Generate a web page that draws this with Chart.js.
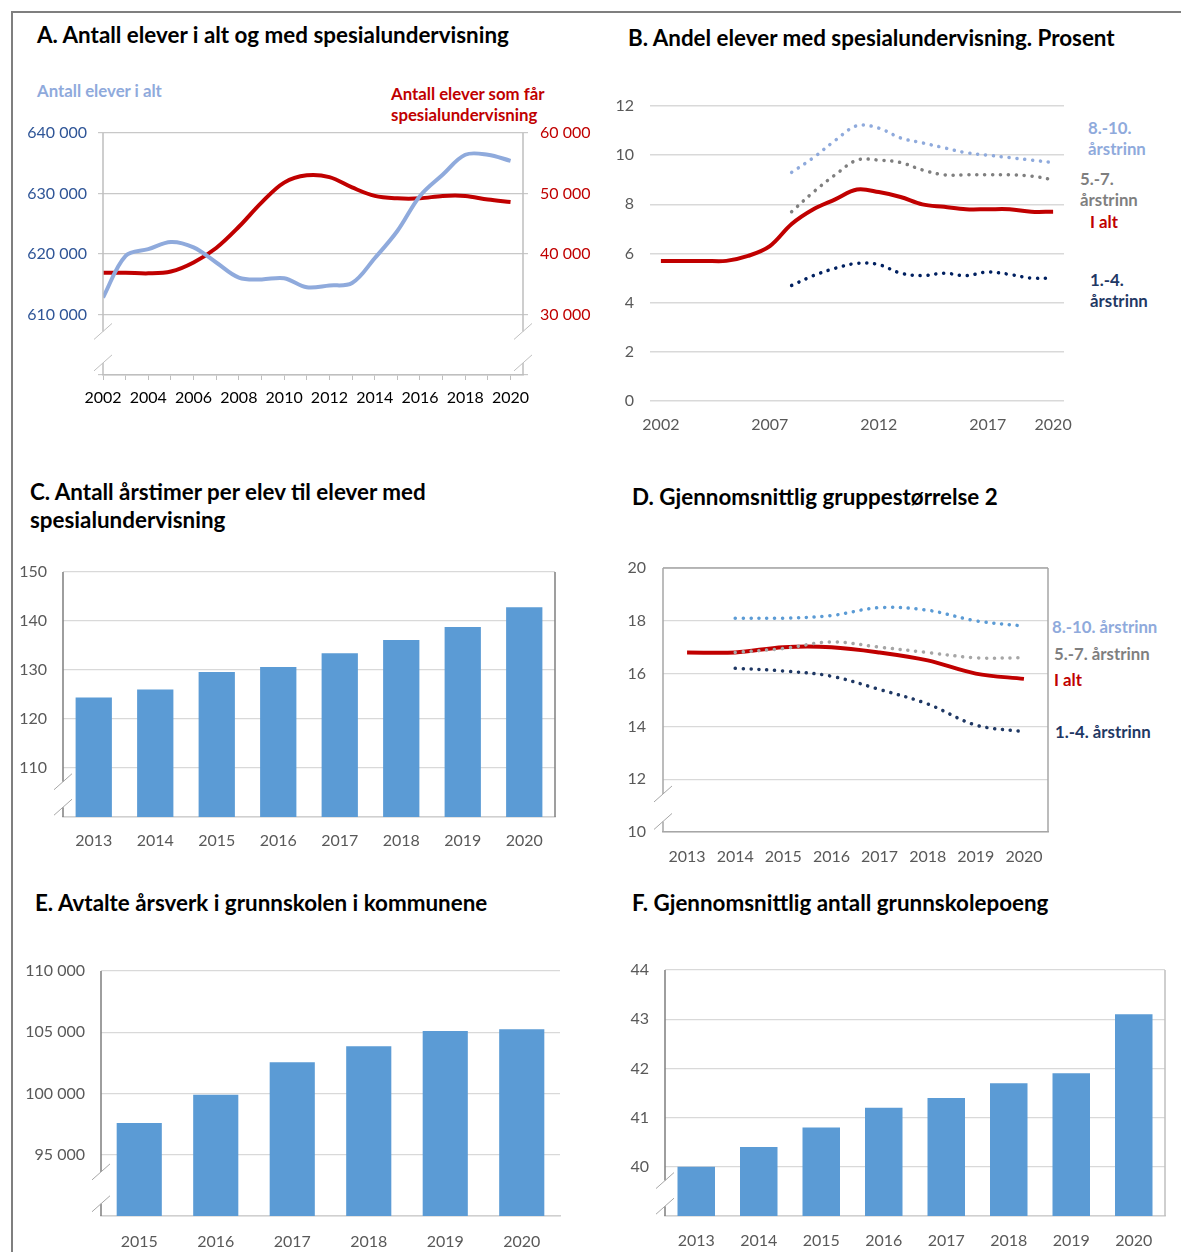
<!DOCTYPE html>
<html lang="no">
<head>
<meta charset="utf-8">
<title>Spesialundervisning i grunnskolen</title>
<script src="https://cdn.jsdelivr.net/npm/chart.js@4.4.1/dist/chart.umd.min.js"></script>
<style>
    body { margin: 0; background: #fff; font-family: Lato, "Open Sans", sans-serif; }
    #page { position: relative; width: 1181px; height: 1252px; overflow: hidden; }
    .frame { position: absolute; left: 11px; top: 11px; right: -5px; bottom: -5px; border-top: 2px solid #7f7f7f; border-left: 2px solid #7f7f7f; }
    .title { position: absolute; font-weight: bold; font-size: 22.4px; line-height: 28px; color: #000; white-space: nowrap; }
    .lbl { position: absolute; font-weight: bold; font-size: 16.8px; line-height: 21px; white-space: nowrap; }
    canvas { position: absolute; }
</style>
</head>
<body>
<div id="page">
    <div class="frame"></div>

    <div class="title" style="left:37px; top:21px;">A. Antall elever i alt og med spesialundervisning</div>
    <div class="lbl" style="left:37px; top:80px; color:#8faadc;">Antall elever i alt</div>
    <div class="lbl" style="left:391px; top:83px; color:#c00000;">Antall elever som får<br>spesialundervisning</div>
    <canvas id="chart_A" width="580" height="317" style="left:20px; top:103px;"></canvas>

    <div class="title" style="left:628px; top:24px;">B. Andel elever med spesialundervisning. Prosent</div>
    <div class="lbl" style="left:1088px; top:117px; color:#8faadc;">8.-10.<br>årstrinn</div>
    <div class="lbl" style="left:1080px; top:168px; color:#7f7f7f;">5.-7.<br>årstrinn</div>
    <div class="lbl" style="left:1090px; top:211px; color:#c00000;">I alt</div>
    <div class="lbl" style="left:1090px; top:269px; color:#1f3864;">1.-4.<br>årstrinn</div>
    <canvas id="chart_B" width="494" height="359" style="left:600px; top:76px;"></canvas>

    <div class="title" style="left:30px; top:478px;">C. Antall årstimer per elev til elever med<br>spesialundervisning</div>
    <canvas id="chart_C" width="575" height="313" style="left:0px; top:542px;"></canvas>

    <div class="title" style="left:632px; top:483px;">D. Gjennomsnittlig gruppestørrelse 2</div>
    <div class="lbl" style="left:1052px; top:616px; color:#8faadc;">8.-10. årstrinn</div>
    <div class="lbl" style="left:1054px; top:643px; color:#7f7f7f;">5.-7. årstrinn</div>
    <div class="lbl" style="left:1054px; top:669px; color:#c00000;">I alt</div>
    <div class="lbl" style="left:1055px; top:721px; color:#1f3864;">1.-4. årstrinn</div>
    <canvas id="chart_D" width="450" height="337" style="left:610px; top:538px;"></canvas>

    <div class="title" style="left:35px; top:889px;">E. Avtalte årsverk i grunnskolen i kommunene</div>
    <canvas id="chart_E" width="565" height="311" style="left:15px; top:941px;"></canvas>

    <div class="title" style="left:632px; top:889px;">F. Gjennomsnittlig antall grunnskolepoeng</div>
    <canvas id="chart_F" width="571" height="312" style="left:610px; top:940px;"></canvas>
</div>

<script>
// A. elever i alt og med spesialundervisning
const years_A = [2002, 2003, 2004, 2005, 2006, 2007, 2008, 2009, 2010, 2011, 2012, 2013, 2014, 2015, 2016, 2017, 2018, 2019, 2020];
const alt_A = [612800, 619700, 620800, 622000, 621100, 618600, 616100, 615800, 616000, 614500, 614800, 615200, 619300, 623800, 629600, 633100, 636400, 636400, 635400];
const spes_A = [36900, 36900, 36800, 37100, 38600, 41000, 44500, 48500, 51800, 53000, 52700, 51000, 49600, 49200, 49200, 49600, 49600, 49000, 48600];

// B. andel med spesialundervisning, prosent
const years_B = ["2002", "2003", "2004", "2005", "2006", "2007", "2008", "2009", "2010", "2011", "2012", "2013", "2014", "2015", "2016", "2017", "2018", "2019", "2020"];
const xTicks_B = ["2002", "2007", "2012", "2017", "2020"];
const ialt_B = [5.7, 5.7, 5.7, 5.7, 5.9, 6.3, 7.2, 7.8, 8.2, 8.6, 8.5, 8.3, 8.0, 7.9, 7.8, 7.8, 7.8, 7.7, 7.7];
const trinn810_B = [null, null, null, null, null, null, 9.3, 9.9, 10.6, 11.2, 11.1, 10.7, 10.5, 10.3, 10.1, 10.0, 9.9, 9.8, 9.7];
const trinn57_B = [null, null, null, null, null, null, 7.7, 8.5, 9.2, 9.8, 9.8, 9.7, 9.4, 9.2, 9.2, 9.2, 9.2, 9.15, 9.0];
const trinn14_B = [null, null, null, null, null, null, 4.7, 5.1, 5.4, 5.6, 5.55, 5.2, 5.1, 5.2, 5.1, 5.25, 5.15, 5.0, 5.0];

// C. årstimer per elev
const years_C = ["2013", "2014", "2015", "2016", "2017", "2018", "2019", "2020"];
const timer_C = [124.4, 126.0, 129.6, 130.6, 133.4, 136.1, 138.8, 142.8];

// D. gruppestørrelse
const years_D = ["2013", "2014", "2015", "2016", "2017", "2018", "2019", "2020"];
const ialt_D = [16.8, 16.8, 17.0, 17.0, 16.8, 16.5, 16.0, 15.8];
const trinn810_D = [null, 18.1, 18.1, 18.2, 18.5, 18.4, 18.0, 17.8];
const trinn57_D = [null, 16.8, 16.95, 17.2, 17.0, 16.8, 16.6, 16.6];
const trinn14_D = [null, 16.2, 16.1, 15.9, 15.4, 14.85, 14.05, 13.8];

// E. avtalte årsverk
const years_E = ["2015", "2016", "2017", "2018", "2019", "2020"];
const arsverk_E = [97600, 99900, 102550, 103850, 105100, 105250];

// F. grunnskolepoeng
const years_F = ["2013", "2014", "2015", "2016", "2017", "2018", "2019", "2020"];
const poeng_F = [40.0, 40.4, 40.8, 41.2, 41.4, 41.7, 41.9, 43.1];


Chart.defaults.font.family = "Lato, 'Open Sans', sans-serif";
Chart.defaults.font.size = 16;
Chart.defaults.color = "#595959";

// topp-padding stor nok til at etikettene ikke skyver plottet ned
const PAD_TOP = 30;

function fmt(v) {
    return String(v).replace(/\B(?=(\d{3})+(?!\d))/g, " ");
}

// brudd i y-aksen + ramme rundt plottet
const axisBreak = {
    id: 'axisBreak',
    afterDraw(chart, args, opts) {
        if (!opts || !opts.sides) return;
        const ctx = chart.ctx;
        const area = chart.chartArea;
        const ys = chart.scales.y;
        const yLow = ys.getPixelForValue(opts.from);
        const yMin = ys.getPixelForValue(ys.min);
        const s1 = yLow + (yMin - yLow) * 0.28;
        const s2 = yLow + (yMin - yLow) * 0.8;
        ctx.save();
        ctx.lineWidth = 1.5;
        if (opts.top) {
            ctx.strokeStyle = opts.top;
            ctx.beginPath();
            ctx.moveTo(area.left, area.top);
            ctx.lineTo(area.right, area.top);
            ctx.stroke();
        }
        if (opts.right) {
            ctx.strokeStyle = opts.right;
            ctx.beginPath();
            ctx.moveTo(area.right, area.top);
            ctx.lineTo(area.right, area.bottom);
            ctx.stroke();
        }
        opts.sides.forEach(function (side) {
            const x = side === 'right' ? area.right : area.left;
            ctx.strokeStyle = opts.color;
            ctx.beginPath();
            ctx.moveTo(x, area.top);
            ctx.lineTo(x, s1);
            ctx.moveTo(x, s2);
            ctx.lineTo(x, area.bottom);
            ctx.stroke();
            ctx.strokeStyle = opts.slashColor;
            ctx.lineWidth = 1;
            ctx.beginPath();
            ctx.moveTo(x - 9, s1 + 8);
            ctx.lineTo(x + 9, s1 - 8);
            ctx.moveTo(x - 9, s2 + 8);
            ctx.lineTo(x + 9, s2 - 8);
            ctx.stroke();
            ctx.lineWidth = 1.5;
        });
        ctx.restore();
    }
};
Chart.register(axisBreak);

function dotted(label, data, color) {
    return {
        label: label,
        data: data,
        borderColor: color,
        borderWidth: 3.5,
        borderDash: [0.1, 7.8],
        borderCapStyle: 'round',
        pointRadius: 0,
        tension: 0.35,
        fill: false
    };
}

function solid(label, data, color) {
    return {
        label: label,
        data: data,
        borderColor: color,
        borderWidth: 4,
        pointRadius: 0,
        tension: 0.35,
        fill: false
    };
}

function chartA() {
    new Chart(document.getElementById('chart_A'), {
        type: 'line',
        data: {
            datasets: [
                Object.assign(solid('Antall elever i alt', years_A.map((y, i) => ({x: y, y: alt_A[i]})), '#8faadc'), {yAxisID: 'y'}),
                Object.assign(solid('Antall elever som får spesialundervisning', years_A.map((y, i) => ({x: y, y: spes_A[i]})), '#c00000'), {yAxisID: 'y2'})
            ]
        },
        options: {
            responsive: false,
            animation: false,
            layout: {padding: {top: PAD_TOP, left: 0, right: 0, bottom: 0}},
            plugins: {
                legend: {display: false},
                tooltip: {enabled: false},
                axisBreak: {from: 610000, sides: ['left', 'right'], color: '#bfbfbf', slashColor: '#bfbfbf'}
            },
            scales: {
                x: {
                    type: 'linear',
                    min: 2002,
                    max: 2020.55,
                    afterFit: s => { s.height = 45; },
                    ticks: {
                        stepSize: 1,
                        autoSkip: false,
                        includeBounds: false,
                        maxRotation: 0,
                        color: '#000',
                        padding: 8,
                        callback: v => v % 2 === 0 ? String(v) : ''
                    },
                    grid: {drawOnChartArea: false, drawTicks: true, tickLength: 5, color: '#bfbfbf'},
                    border: {color: '#bfbfbf', width: 1.5}
                },
                y: {
                    min: 600000,
                    max: 640000,
                    afterFit: s => { s.width = 83; },
                    ticks: {stepSize: 10000, color: '#2f5597', padding: 11, callback: (v, i) => i === 0 ? '' : fmt(v)},
                    grid: {color: '#c8c8c8', tickLength: 5, lineWidth: 1.2},
                    border: {display: false}
                },
                y2: {
                    position: 'right',
                    min: 20000,
                    max: 60000,
                    afterFit: s => { s.width = 77; },
                    ticks: {stepSize: 10000, color: '#c00000', padding: 12, callback: (v, i) => i === 0 ? '' : fmt(v)},
                    grid: {drawOnChartArea: false, tickLength: 5, color: '#c8c8c8', lineWidth: 1.2},
                    border: {display: false}
                }
            }
        }
    });
}

function chartB() {
    new Chart(document.getElementById('chart_B'), {
        type: 'line',
        data: {
            labels: years_B,
            datasets: [
                dotted('8.-10. årstrinn', trinn810_B, '#8faadc'),
                dotted('5.-7. årstrinn', trinn57_B, '#7f7f7f'),
                dotted('1.-4. årstrinn', trinn14_B, '#002060'),
                solid('I alt', ialt_B, '#c00000')
            ]
        },
        options: {
            responsive: false,
            animation: false,
            layout: {padding: {top: PAD_TOP, left: 0, right: 30, bottom: 0}},
            plugins: {legend: {display: false}, tooltip: {enabled: false}},
            scales: {
                x: {
                    offset: true,
                    afterFit: s => { s.height = 34; },
                    ticks: {
                        autoSkip: false,
                        maxRotation: 0,
                        padding: 14,
                        callback: function (v) {
                            const l = this.getLabelForValue(v);
                            return xTicks_B.includes(l) ? l : '';
                        }
                    },
                    grid: {display: false, drawTicks: false},
                    border: {display: false}
                },
                y: {
                    min: 0,
                    max: 12,
                    afterFit: s => { s.width = 50; },
                    ticks: {stepSize: 2, padding: 16},
                    grid: {color: '#d9d9d9', drawTicks: false, lineWidth: 1.5},
                    border: {display: false}
                }
            }
        }
    });
}

function barChart(id, labels, values, yMin, yMax, step, breakFrom, sizes, rightFrame, fmtTicks) {
    new Chart(document.getElementById(id), {
        type: 'bar',
        data: {
            labels: labels,
            datasets: [{
                data: values,
                backgroundColor: '#5b9bd5',
                categoryPercentage: 1.0,
                barPercentage: sizes.bar
            }]
        },
        options: {
            responsive: false,
            animation: false,
            layout: {padding: {top: PAD_TOP, left: 0, right: sizes.right, bottom: 0}},
            plugins: {
                legend: {display: false},
                tooltip: {enabled: false},
                axisBreak: {from: breakFrom, sides: ['left'], color: '#7f7f7f', slashColor: '#a6a6a6', right: rightFrame}
            },
            scales: {
                x: {
                    afterFit: s => { s.height = sizes.xh; },
                    ticks: {padding: sizes.xpad, maxRotation: 0, autoSkip: false},
                    grid: {drawOnChartArea: false, drawTicks: false},
                    border: {color: '#d0d0d0', width: 1.5}
                },
                y: {
                    min: yMin,
                    max: yMax,
                    afterFit: s => { s.width = sizes.yw; },
                    ticks: {
                        stepSize: step,
                        padding: 16,
                        callback: (v, i) => i === 0 ? '' : (fmtTicks ? fmt(v) : v)
                    },
                    grid: {color: '#d9d9d9', drawTicks: false, lineWidth: 1.3},
                    border: {display: false}
                }
            }
        }
    });
}

function chartD() {
    new Chart(document.getElementById('chart_D'), {
        type: 'line',
        data: {
            labels: years_D,
            datasets: [
                dotted('8.-10. årstrinn', trinn810_D, '#5b9bd5'),
                dotted('5.-7. årstrinn', trinn57_D, '#a6a6a6'),
                dotted('1.-4. årstrinn', trinn14_D, '#1f3864'),
                solid('I alt', ialt_D, '#c00000')
            ]
        },
        options: {
            responsive: false,
            animation: false,
            layout: {padding: {top: PAD_TOP, left: 0, right: 12, bottom: 0}},
            plugins: {
                legend: {display: false},
                tooltip: {enabled: false},
                axisBreak: {from: 12, sides: ['left'], color: '#a6a6a6', slashColor: '#a6a6a6', top: '#a6a6a6', right: '#a6a6a6'}
            },
            scales: {
                x: {
                    offset: true,
                    afterFit: s => { s.height = 43; },
                    ticks: {padding: 15, maxRotation: 0, autoSkip: false},
                    grid: {drawOnChartArea: false, drawTicks: false},
                    border: {color: '#a6a6a6', width: 1.5}
                },
                y: {
                    min: 10,
                    max: 20,
                    afterFit: s => { s.width = 53; },
                    ticks: {stepSize: 2, padding: 17},
                    grid: {color: '#d9d9d9', drawTicks: false, lineWidth: 1.3},
                    border: {display: false}
                }
            }
        }
    });
}


chartA();
chartB();
barChart('chart_C', years_C, timer_C, 100, 150, 10, 110, {right: 20, yw: 63, xh: 38, xpad: 14, bar: 0.59}, '#7f7f7f', false);
chartD();
barChart('chart_E', years_E, arsverk_E, 90000, 110000, 5000, 95000, {right: 20, yw: 86, xh: 36, xpad: 16, bar: 0.59}, null, true);
barChart('chart_F', years_F, poeng_F, 39, 44, 1, 40, {right: 16, yw: 55, xh: 36, xpad: 15, bar: 0.6}, '#bfbfbf', false);
</script>
</body>
</html>
